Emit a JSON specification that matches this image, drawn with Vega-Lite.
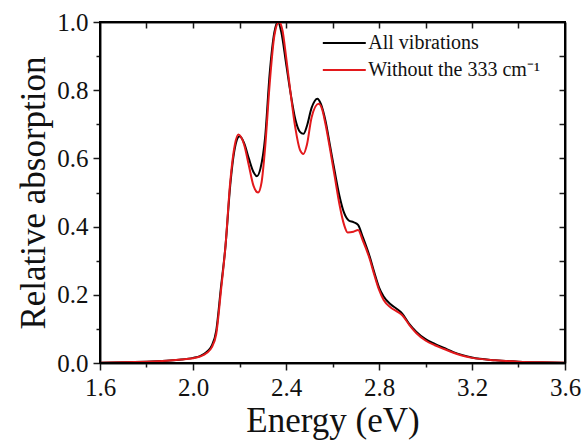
{
  "$schema": "https://vega.github.io/schema/vega-lite/v6.json",
  "width": 465,
  "height": 341,
  "autosize": {"type": "none"},
  "padding": {"left": 100, "top": 22, "right": 19, "bottom": 80},
  "background": "white",
  "config": {
    "view": {"stroke": "#1a1a1a", "strokeWidth": 2},
    "font": "Liberation Serif",
    "axis": {
      "grid": false,
      "domainColor": "#1a1a1a",
      "domainWidth": 2,
      "tickColor": "#1a1a1a",
      "tickWidth": 1.5,
      "labelFont": "Liberation Serif",
      "labelColor": "#111111",
      "labelFlush": false,
      "titleFont": "Liberation Serif",
      "titleFontWeight": "normal",
      "titleColor": "#111111"
    }
  },
  "data": {
    "values": [
      {"E": 1.60, "A": 0.001, "s": "All vibrations"},
      {"E": 1.70, "A": 0.002, "s": "All vibrations"},
      {"E": 1.80, "A": 0.004, "s": "All vibrations"},
      {"E": 1.90, "A": 0.007, "s": "All vibrations"},
      {"E": 1.95, "A": 0.010, "s": "All vibrations"},
      {"E": 2.00, "A": 0.015, "s": "All vibrations"},
      {"E": 2.03, "A": 0.020, "s": "All vibrations"},
      {"E": 2.06, "A": 0.033, "s": "All vibrations"},
      {"E": 2.08, "A": 0.050, "s": "All vibrations"},
      {"E": 2.10, "A": 0.095, "s": "All vibrations"},
      {"E": 2.12, "A": 0.220, "s": "All vibrations"},
      {"E": 2.14, "A": 0.345, "s": "All vibrations"},
      {"E": 2.16, "A": 0.520, "s": "All vibrations"},
      {"E": 2.18, "A": 0.630, "s": "All vibrations"},
      {"E": 2.20, "A": 0.665, "s": "All vibrations"},
      {"E": 2.22, "A": 0.645, "s": "All vibrations"},
      {"E": 2.24, "A": 0.600, "s": "All vibrations"},
      {"E": 2.26, "A": 0.560, "s": "All vibrations"},
      {"E": 2.275, "A": 0.548, "s": "All vibrations"},
      {"E": 2.29, "A": 0.570, "s": "All vibrations"},
      {"E": 2.31, "A": 0.660, "s": "All vibrations"},
      {"E": 2.33, "A": 0.850, "s": "All vibrations"},
      {"E": 2.35, "A": 0.970, "s": "All vibrations"},
      {"E": 2.365, "A": 1.000, "s": "All vibrations"},
      {"E": 2.38, "A": 0.970, "s": "All vibrations"},
      {"E": 2.40, "A": 0.880, "s": "All vibrations"},
      {"E": 2.42, "A": 0.790, "s": "All vibrations"},
      {"E": 2.44, "A": 0.715, "s": "All vibrations"},
      {"E": 2.46, "A": 0.678, "s": "All vibrations"},
      {"E": 2.475, "A": 0.672, "s": "All vibrations"},
      {"E": 2.49, "A": 0.695, "s": "All vibrations"},
      {"E": 2.51, "A": 0.748, "s": "All vibrations"},
      {"E": 2.535, "A": 0.775, "s": "All vibrations"},
      {"E": 2.55, "A": 0.760, "s": "All vibrations"},
      {"E": 2.57, "A": 0.710, "s": "All vibrations"},
      {"E": 2.59, "A": 0.635, "s": "All vibrations"},
      {"E": 2.61, "A": 0.560, "s": "All vibrations"},
      {"E": 2.63, "A": 0.490, "s": "All vibrations"},
      {"E": 2.65, "A": 0.440, "s": "All vibrations"},
      {"E": 2.67, "A": 0.418, "s": "All vibrations"},
      {"E": 2.69, "A": 0.413, "s": "All vibrations"},
      {"E": 2.71, "A": 0.405, "s": "All vibrations"},
      {"E": 2.73, "A": 0.370, "s": "All vibrations"},
      {"E": 2.76, "A": 0.312, "s": "All vibrations"},
      {"E": 2.78, "A": 0.265, "s": "All vibrations"},
      {"E": 2.80, "A": 0.222, "s": "All vibrations"},
      {"E": 2.82, "A": 0.195, "s": "All vibrations"},
      {"E": 2.85, "A": 0.172, "s": "All vibrations"},
      {"E": 2.88, "A": 0.157, "s": "All vibrations"},
      {"E": 2.90, "A": 0.145, "s": "All vibrations"},
      {"E": 2.93, "A": 0.115, "s": "All vibrations"},
      {"E": 2.96, "A": 0.092, "s": "All vibrations"},
      {"E": 3.00, "A": 0.070, "s": "All vibrations"},
      {"E": 3.04, "A": 0.056, "s": "All vibrations"},
      {"E": 3.08, "A": 0.044, "s": "All vibrations"},
      {"E": 3.12, "A": 0.032, "s": "All vibrations"},
      {"E": 3.16, "A": 0.023, "s": "All vibrations"},
      {"E": 3.20, "A": 0.016, "s": "All vibrations"},
      {"E": 3.30, "A": 0.008, "s": "All vibrations"},
      {"E": 3.40, "A": 0.004, "s": "All vibrations"},
      {"E": 3.50, "A": 0.002, "s": "All vibrations"},
      {"E": 3.60, "A": 0.001, "s": "All vibrations"},
      {"E": 1.60, "A": 0.001, "s": "Without the 333 cm⁻¹"},
      {"E": 1.70, "A": 0.002, "s": "Without the 333 cm⁻¹"},
      {"E": 1.80, "A": 0.004, "s": "Without the 333 cm⁻¹"},
      {"E": 1.90, "A": 0.007, "s": "Without the 333 cm⁻¹"},
      {"E": 1.95, "A": 0.010, "s": "Without the 333 cm⁻¹"},
      {"E": 2.00, "A": 0.014, "s": "Without the 333 cm⁻¹"},
      {"E": 2.03, "A": 0.019, "s": "Without the 333 cm⁻¹"},
      {"E": 2.06, "A": 0.030, "s": "Without the 333 cm⁻¹"},
      {"E": 2.08, "A": 0.045, "s": "Without the 333 cm⁻¹"},
      {"E": 2.10, "A": 0.085, "s": "Without the 333 cm⁻¹"},
      {"E": 2.12, "A": 0.210, "s": "Without the 333 cm⁻¹"},
      {"E": 2.14, "A": 0.345, "s": "Without the 333 cm⁻¹"},
      {"E": 2.16, "A": 0.530, "s": "Without the 333 cm⁻¹"},
      {"E": 2.18, "A": 0.640, "s": "Without the 333 cm⁻¹"},
      {"E": 2.195, "A": 0.670, "s": "Without the 333 cm⁻¹"},
      {"E": 2.22, "A": 0.640, "s": "Without the 333 cm⁻¹"},
      {"E": 2.24, "A": 0.580, "s": "Without the 333 cm⁻¹"},
      {"E": 2.26, "A": 0.520, "s": "Without the 333 cm⁻¹"},
      {"E": 2.28, "A": 0.500, "s": "Without the 333 cm⁻¹"},
      {"E": 2.295, "A": 0.530, "s": "Without the 333 cm⁻¹"},
      {"E": 2.31, "A": 0.630, "s": "Without the 333 cm⁻¹"},
      {"E": 2.33, "A": 0.820, "s": "Without the 333 cm⁻¹"},
      {"E": 2.35, "A": 0.960, "s": "Without the 333 cm⁻¹"},
      {"E": 2.37, "A": 1.000, "s": "Without the 333 cm⁻¹"},
      {"E": 2.385, "A": 0.975, "s": "Without the 333 cm⁻¹"},
      {"E": 2.40, "A": 0.900, "s": "Without the 333 cm⁻¹"},
      {"E": 2.42, "A": 0.790, "s": "Without the 333 cm⁻¹"},
      {"E": 2.44, "A": 0.690, "s": "Without the 333 cm⁻¹"},
      {"E": 2.46, "A": 0.625, "s": "Without the 333 cm⁻¹"},
      {"E": 2.475, "A": 0.613, "s": "Without the 333 cm⁻¹"},
      {"E": 2.49, "A": 0.640, "s": "Without the 333 cm⁻¹"},
      {"E": 2.51, "A": 0.720, "s": "Without the 333 cm⁻¹"},
      {"E": 2.54, "A": 0.760, "s": "Without the 333 cm⁻¹"},
      {"E": 2.555, "A": 0.745, "s": "Without the 333 cm⁻¹"},
      {"E": 2.57, "A": 0.700, "s": "Without the 333 cm⁻¹"},
      {"E": 2.59, "A": 0.625, "s": "Without the 333 cm⁻¹"},
      {"E": 2.61, "A": 0.545, "s": "Without the 333 cm⁻¹"},
      {"E": 2.63, "A": 0.465, "s": "Without the 333 cm⁻¹"},
      {"E": 2.65, "A": 0.405, "s": "Without the 333 cm⁻¹"},
      {"E": 2.665, "A": 0.383, "s": "Without the 333 cm⁻¹"},
      {"E": 2.69, "A": 0.385, "s": "Without the 333 cm⁻¹"},
      {"E": 2.71, "A": 0.390, "s": "Without the 333 cm⁻¹"},
      {"E": 2.73, "A": 0.360, "s": "Without the 333 cm⁻¹"},
      {"E": 2.76, "A": 0.305, "s": "Without the 333 cm⁻¹"},
      {"E": 2.78, "A": 0.258, "s": "Without the 333 cm⁻¹"},
      {"E": 2.80, "A": 0.215, "s": "Without the 333 cm⁻¹"},
      {"E": 2.82, "A": 0.185, "s": "Without the 333 cm⁻¹"},
      {"E": 2.85, "A": 0.163, "s": "Without the 333 cm⁻¹"},
      {"E": 2.88, "A": 0.150, "s": "Without the 333 cm⁻¹"},
      {"E": 2.90, "A": 0.140, "s": "Without the 333 cm⁻¹"},
      {"E": 2.93, "A": 0.112, "s": "Without the 333 cm⁻¹"},
      {"E": 2.96, "A": 0.088, "s": "Without the 333 cm⁻¹"},
      {"E": 3.00, "A": 0.066, "s": "Without the 333 cm⁻¹"},
      {"E": 3.04, "A": 0.052, "s": "Without the 333 cm⁻¹"},
      {"E": 3.08, "A": 0.041, "s": "Without the 333 cm⁻¹"},
      {"E": 3.12, "A": 0.030, "s": "Without the 333 cm⁻¹"},
      {"E": 3.16, "A": 0.021, "s": "Without the 333 cm⁻¹"},
      {"E": 3.20, "A": 0.015, "s": "Without the 333 cm⁻¹"},
      {"E": 3.30, "A": 0.008, "s": "Without the 333 cm⁻¹"},
      {"E": 3.40, "A": 0.004, "s": "Without the 333 cm⁻¹"},
      {"E": 3.50, "A": 0.002, "s": "Without the 333 cm⁻¹"},
      {"E": 3.60, "A": 0.001, "s": "Without the 333 cm⁻¹"}
    ]
  },
  "resolve": {"axis": {"x": "independent", "y": "independent"}},
  "layer": [
    {
      "mark": {"type": "line", "opacity": 0},
      "encoding": {
        "x": {"field": "E", "type": "quantitative", "scale": {"domain": [1.6, 3.6], "nice": false, "zero": false},
          "axis": {"orient": "top", "values": [1.8, 2.0, 2.2, 2.4, 2.6, 2.8, 3.0, 3.2, 3.4], "labels": false, "title": null, "tickSize": -6}},
        "y": {"field": "A", "type": "quantitative", "scale": {"domain": [0, 1], "nice": false},
          "axis": {"orient": "right", "values": [0.1, 0.2, 0.3, 0.4, 0.5, 0.6, 0.7, 0.8, 0.9], "labels": false, "title": null, "tickSize": -6}},
        "detail": {"field": "s"}
      }
    },
    {
      "mark": {"type": "line", "opacity": 0},
      "encoding": {
        "x": {"field": "E", "type": "quantitative",
          "axis": {"orient": "bottom", "values": [1.8, 2.2, 2.6, 3.0, 3.4], "labels": false, "title": null, "tickSize": 4, "domain": false}},
        "y": {"field": "A", "type": "quantitative",
          "axis": {"orient": "left", "values": [0.1, 0.3, 0.5, 0.7, 0.9], "labels": false, "title": null, "tickSize": 4, "domain": false}},
        "detail": {"field": "s"}
      }
    },
    {
      "mark": {"type": "line", "interpolate": "monotone", "strokeWidth": 2},
      "encoding": {
        "x": {"field": "E", "type": "quantitative",
          "axis": {"orient": "bottom", "values": [1.6, 2.0, 2.4, 2.8, 3.2, 3.6], "format": ".1f", "tickSize": 7, "labelFontSize": 25, "labelPadding": 5, "title": "Energy (eV)", "titleFontSize": 35, "titlePadding": 3}},
        "y": {"field": "A", "type": "quantitative",
          "axis": {"orient": "left", "values": [0, 0.2, 0.4, 0.6, 0.8, 1.0], "format": ".1f", "tickSize": 7, "labelFontSize": 25, "labelPadding": 5, "title": "Relative absorption", "titleFontSize": 35, "titlePadding": 5}},
        "color": {
          "field": "s", "type": "nominal",
          "scale": {"domain": ["All vibrations", "Without the 333 cm⁻¹"], "range": ["#000000", "#e3191c"]},
          "legend": {
            "title": null, "orient": "none", "legendX": 234.3, "legendY": 11,
            "symbolType": "M-3,0H3", "symbolSize": 205, "symbolStrokeWidth": 2,
            "labelFont": "Liberation Serif", "labelFontSize": 20, "labelColor": "#111111", "labelOffset": 14, "labelLimit": 0,
            "rowPadding": 7, "padding": 0
          }
        }
      }
    },
    {
      "mark": {"type": "rect", "fill": null, "fillOpacity": 0, "stroke": "black", "strokeWidth": 2},
      "encoding": {
        "x": {"datum": 1.6, "type": "quantitative", "axis": null},
        "x2": {"datum": 3.6},
        "y": {"datum": 0, "type": "quantitative", "axis": null},
        "y2": {"datum": 1}
      }
    }
  ]
}
